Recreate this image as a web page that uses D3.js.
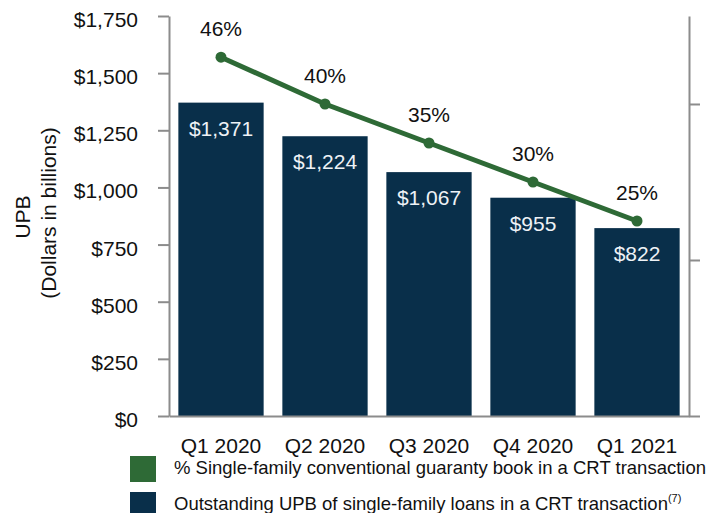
<!DOCTYPE html>
<html>
<head>
<meta charset="utf-8">
<script src="https://cdn.jsdelivr.net/npm/d3@7"></script>
<style>
  body { margin: 0; background: #fff; }
  text { font-family: "Liberation Sans", Arial, sans-serif; }
</style>
</head>
<body>
<div id="chart"></div>
<script>
// CRT chart: outstanding UPB bars (left axis) + % of book line (right axis)

var quarters = ['Q1 2020', 'Q2 2020', 'Q3 2020', 'Q4 2020', 'Q1 2021'];
var upbValues = [1371, 1224, 1067, 955, 822];
var crtPercent = [46, 40, 35, 30, 25];
var leftTicks = [0, 250, 500, 750, 1000, 1250, 1500, 1750];
var rightTicks = [0, 20, 40];
var legendLabels = [
  '% Single-family conventional guaranty book in a CRT transaction',
  'Outstanding UPB of single-family loans in a CRT transaction'
];

var navy = '#092f4a';
var green = '#2e6a36';
var axisGray = '#8c8c8c';

var width = 714, height = 513;
var plot = {left: 169, right: 689, top: 16, bottom: 416};

var svg = d3.select('#chart')
  .append('svg')
  .attr('width', width)
  .attr('height', height);

var x = d3.scaleBand()
  .domain(quarters)
  .range([plot.left, plot.right])
  .paddingInner(0.18)
  .paddingOuter(0.09);

var y = d3.scaleLinear()
  .domain([0, 1750])
  .range([plot.bottom, plot.top]);

// right axis has no labels, 0% sits on the baseline
var y2 = d3.scaleLinear()
  .domain([0, 51.28])
  .range([plot.bottom, plot.top]);

var fmtDollar = function(d) { return '$' + d3.format(',')(d); };

// Bars
svg.append('g')
  .selectAll('rect')
  .data(upbValues)
  .enter()
  .append('rect')
  .attr('x', function(d, i) { return x(quarters[i]); })
  .attr('y', function(d) { return y(d); })
  .attr('width', x.bandwidth())
  .attr('height', function(d) { return y(0) - y(d); })
  .attr('fill', navy);

svg.append('g')
  .selectAll('text')
  .data(upbValues)
  .enter()
  .append('text')
  .attr('x', function(d, i) { return x(quarters[i]) + x.bandwidth() / 2; })
  .attr('y', function(d) { return y(d) + 33; })
  .attr('text-anchor', 'middle')
  .attr('font-size', 21)
  .attr('fill', '#eef2f6')
  .text(fmtDollar);

// Left axis
var leftAxis = svg.append('g')
  .attr('transform', 'translate(' + plot.left + ',0)')
  .call(d3.axisLeft(y).tickValues(leftTicks).tickFormat(fmtDollar).tickSize(11).tickSizeOuter(0).tickPadding(20));
leftAxis.select('.domain').attr('stroke', axisGray).attr('stroke-width', 2);
leftAxis.selectAll('.tick line').attr('stroke', axisGray).attr('stroke-width', 2);
leftAxis.selectAll('.tick text')
  .attr('font-size', 21)
  .attr('font-family', '"Liberation Sans", Arial, sans-serif')
  .attr('fill', '#111')
  .attr('dy', '0.5em');

// Right axis
var rightAxis = svg.append('g')
  .attr('transform', 'translate(' + plot.right + ',0)')
  .call(d3.axisRight(y2).tickValues(rightTicks).tickFormat('').tickSize(11).tickSizeOuter(0));
rightAxis.select('.domain').attr('stroke', axisGray).attr('stroke-width', 2);
rightAxis.selectAll('.tick line').attr('stroke', axisGray).attr('stroke-width', 2);

// Bottom axis
var bottomAxis = svg.append('g')
  .attr('transform', 'translate(0,' + plot.bottom + ')')
  .call(d3.axisBottom(x).tickSize(0).tickSizeOuter(0).tickPadding(22));
bottomAxis.select('.domain').attr('stroke', axisGray).attr('stroke-width', 2);
bottomAxis.selectAll('.tick text')
  .attr('font-size', 21)
  .attr('font-family', '"Liberation Sans", Arial, sans-serif')
  .attr('fill', '#111');

// Line of CRT %
var line = d3.line()
  .x(function(d, i) { return x(quarters[i]) + x.bandwidth() / 2; })
  .y(function(d) { return y2(d); });

svg.append('path')
  .datum(crtPercent)
  .attr('d', line)
  .attr('fill', 'none')
  .attr('stroke', green)
  .attr('stroke-width', 5);

var pts = svg.append('g')
  .selectAll('g')
  .data(crtPercent)
  .enter();
pts.append('circle')
  .attr('cx', function(d, i) { return x(quarters[i]) + x.bandwidth() / 2; })
  .attr('cy', function(d) { return y2(d); })
  .attr('r', 5.5)
  .attr('fill', green);
pts.append('text')
  .attr('x', function(d, i) { return x(quarters[i]) + x.bandwidth() / 2; })
  .attr('y', function(d) { return y2(d) - 21; })
  .attr('text-anchor', 'middle')
  .attr('font-size', 21)
  .attr('fill', '#111')
  .text(function(d) { return d + '%'; });

// Y axis title
var title = svg.append('g')
  .attr('font-size', 21)
  .attr('fill', '#111')
  .attr('text-anchor', 'middle');
title.append('text')
  .attr('transform', 'translate(30,217) rotate(-90)')
  .text('UPB');
title.append('text')
  .attr('transform', 'translate(56,213) rotate(-90)')
  .text('(Dollars in billions)');

// Legend
var legendColors = [green, navy];
var legend = svg.append('g')
  .selectAll('g')
  .data(legendLabels)
  .enter()
  .append('g')
  .attr('transform', function(d, i) { return 'translate(130,' + (456 + i * 36) + ')'; });
legend.append('rect')
  .attr('width', 26)
  .attr('height', 26)
  .attr('fill', function(d, i) { return legendColors[i]; });
var legendText = legend.append('text')
  .attr('x', 44)
  .attr('y', 18)
  .attr('font-size', 18.5)
  .attr('fill', '#111')
  .text(function(d) { return d; });
legendText.filter(function(d, i) { return i === 1; })
  .append('tspan')
  .attr('font-size', 11)
  .attr('dy', -8)
  .text('(7)');
</script>
</body>
</html>
